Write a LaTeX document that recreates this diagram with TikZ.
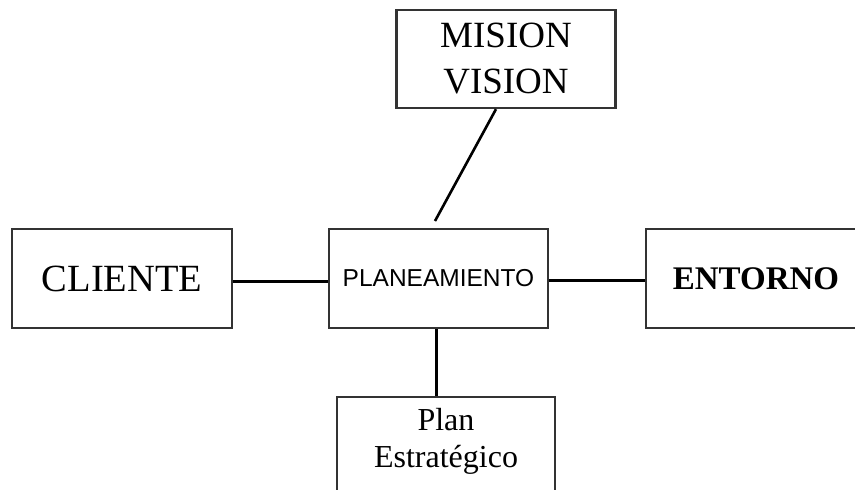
\documentclass[tikz,border=0pt]{standalone}
\usepackage{fontspec}
\setmainfont{Liberation Serif}
\newfontfamily\planfont{Liberation Sans}
\begin{document}
\begin{tikzpicture}[x=1pt,y=-1pt,
	caja/.style={draw=black!80, line width=2.3pt, inner sep=0pt, minimum width=219pt, minimum height=99pt, align=center},
	enlace/.style={line width=3pt}]
	\useasboundingbox (0,0) rectangle (855,490);
	\clip (0,0) rectangle (855,490);
	% Specify the boxes:
	\node[caja, minimum height=98pt, font=\fontsize{37}{46}\selectfont] (mision) at (506,59) {MISION\\VISION};
	\node[caja, minimum width=220pt, font=\fontsize{38.5}{46}\selectfont] (cliente) at (122,278.5) {CLIENTE};
	\node[caja, font=\planfont\fontsize{24.5}{29}\selectfont] (planea) at (438.5,278.5) {PLANEAMIENTO};
	\node[caja, minimum width=220pt, font=\bfseries\fontsize{33}{40}\selectfont] (entorno) at (756,278.5) {ENTORNO};
	\node[caja, minimum width=218pt] (plan) at (446,446.5) {};
	% Specify the text of the lower box:
	\node[inner sep=0pt, align=center, font=\fontsize{32}{37}\selectfont] (plantxt) at (446,441) {Plan\\Estrat\'egico};
	% Specify the points of the connectors:
	\coordinate (H1) at (0,281);
	\coordinate (H2) at (0,280);
	\coordinate (V) at (436,0);
	\coordinate (D1) at (496,0);
	\coordinate (D2) at (435,221);
	% Draw horizontal connectors:
	\draw[enlace] (cliente.east |- H1) -- (planea.west |- H1);
	\draw[enlace] (planea.east |- H2) -- (entorno.west |- H2);
	% Draw vertical and oblique connectors:
	\draw[enlace] (planea.south -| V) -- (plan.north -| V);
	\draw[enlace, line width=2.6pt] (mision.south -| D1) -- (D2);
\end{tikzpicture}
\end{document}
